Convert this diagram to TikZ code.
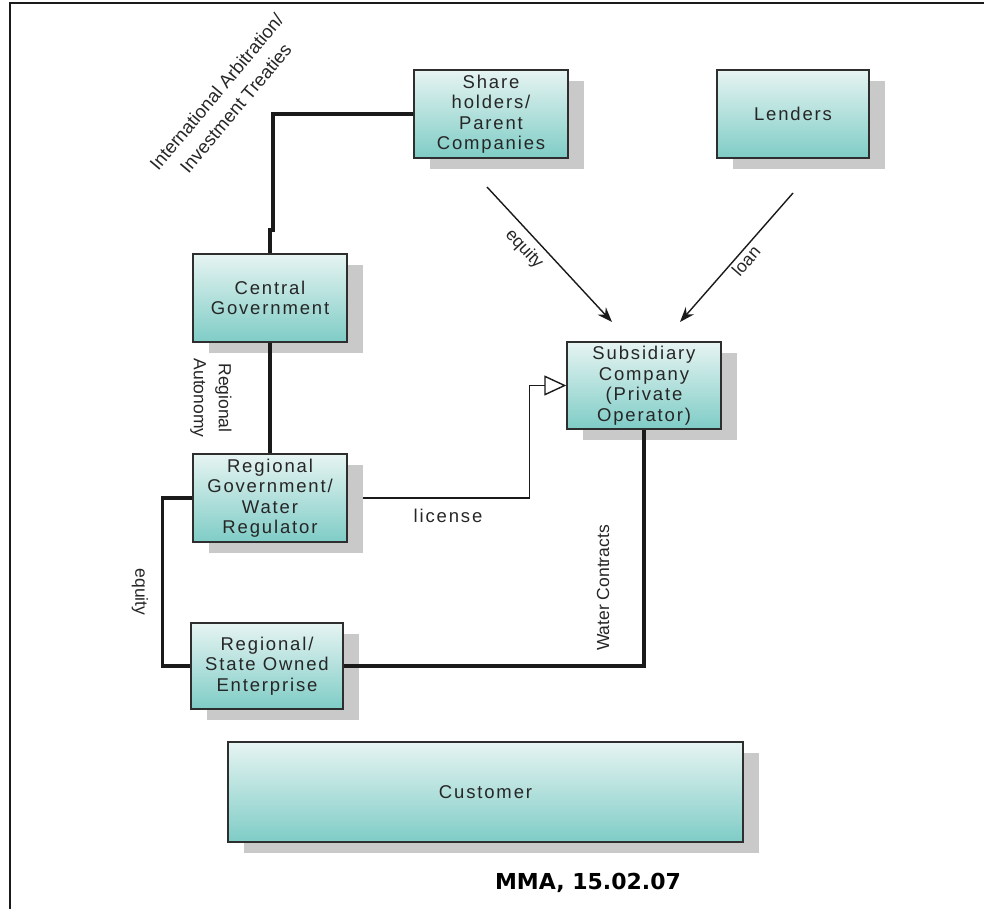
\documentclass[tikz,border=0pt]{standalone}
\usepackage{fontspec}
\setmainfont{Liberation Sans}
\newfontfamily\boxfont[LetterSpace=10]{Liberation Sans}
\newfontfamily\stampfont{DejaVu Sans}
\usetikzlibrary{arrows.meta,shadows,calc}
\definecolor{boxtop}{HTML}{E6F4F2}
\definecolor{boxbot}{HTML}{7FCCC6}
\definecolor{boxedge}{HTML}{2E2E2E}
\definecolor{shadowgray}{HTML}{C9C9C9}
\definecolor{linecol}{HTML}{1A1A1A}
\definecolor{txt}{HTML}{262626}
\pgfdeclarelayer{bg}
\pgfsetlayers{bg,main}
\tikzset{
  box/.style={draw=boxedge, line width=1.4pt, top color=boxtop, bottom color=boxbot,
    drop shadow={shadow xshift=16pt, shadow yshift=-11pt, fill=shadowgray, opacity=1},
    align=center, inner sep=0pt, text=txt, font={\boxfont\fontsize{18.5}{20.5}\selectfont}},
  lbl/.style={font={\fontsize{17.5}{25}\selectfont}, text=txt, align=center, inner sep=0pt},
  con/.style={draw=linecol, line width=3.2pt},
  thinline/.style={draw=linecol, line width=1.4pt}
}
\begin{document}
\begin{tikzpicture}[x=1pt,y=-1pt]
\useasboundingbox (0,0) rectangle (984,909);
% frame (top and left edges)
\draw[line width=2.2pt, color=linecol] (984,3) -- (10,3) -- (10,909);

% boxes
\node[box, minimum width=154pt, minimum height=88pt] (sh) at (491,114) {Share\\holders/\\Parent\\Companies};
\node[box, minimum width=152pt, minimum height=88pt] (ld) at (793,114) {Lenders};
\node[box, minimum width=154pt, minimum height=88pt] (cg) at (270,298) {Central\\Government};
\node[box, minimum width=154pt, minimum height=87pt] (sub) at (644,385.5) {Subsidiary\\Company\\(Private\\Operator)};
\node[box, minimum width=154pt, minimum height=88pt] (rg) at (270,498) {Regional\\Government/\\Water\\Regulator};
\node[box, minimum width=152pt, minimum height=86pt] (rs) at (267,666) {Regional/\\State Owned\\Enterprise};
\node[box, minimum width=515pt, minimum height=100pt] (cu) at (485.5,792) {Customer};

% connectors
\coordinate (j2) at (273,230);
\coordinate (j3) at (270,230);
\draw[con] (sh.west) -| (j2) -- (j3) -- (cg.north);
\draw[con] (cg.south) -- (rg.north);
\draw[con] (rg.west) -- ++(-30,0) |- (rs.west);
\draw[con] (sub.south) |- (rs.east);
\begin{pgfonlayer}{bg}
\draw[thinline, -{Triangle[open, length=22pt, width=20pt, line width=1.4pt]}]
  (rg.east) -| ($(sub.west)+(-37,0)$) -- (sub.west);
\end{pgfonlayer}

\coordinate (eq0) at (487,187);
\coordinate (eq1) at (612,322);
\coordinate (ln0) at (793,193);
\coordinate (ln1) at (680,322);
\draw[thinline, -{Stealth[length=15pt, width=11pt]}] (eq0) -- (eq1);
\draw[thinline, -{Stealth[length=15pt, width=11pt]}] (ln0) -- (ln1);

% labels
\node[lbl, rotate=50, font={\fontsize{18.5}{25}\selectfont}] (arb) at (226,100) {International Arbitration/\\Investment Treaties};
\node[lbl, rotate=-90] (auto) at (211,398) {Regional\\Autonomy};
\node[lbl, rotate=-47] (eqlbl) at (524,249) {equity};
\node[lbl, rotate=49] (lnlbl) at (746,261) {loan};
\node[lbl, rotate=-90] (eqlbl2) at (140,592) {equity};
\node[lbl, rotate=90] (wc) at (603,588) {Water Contracts};
\node[lbl, font={\boxfont\fontsize{18.5}{20.5}\selectfont}] (lic) at (448,516) {license};
\node[font={\stampfont\bfseries\fontsize{22}{24}\selectfont}, text=black, inner sep=0pt] (mma) at (588,883) {MMA, 15.02.07};
\end{tikzpicture}
\end{document}
